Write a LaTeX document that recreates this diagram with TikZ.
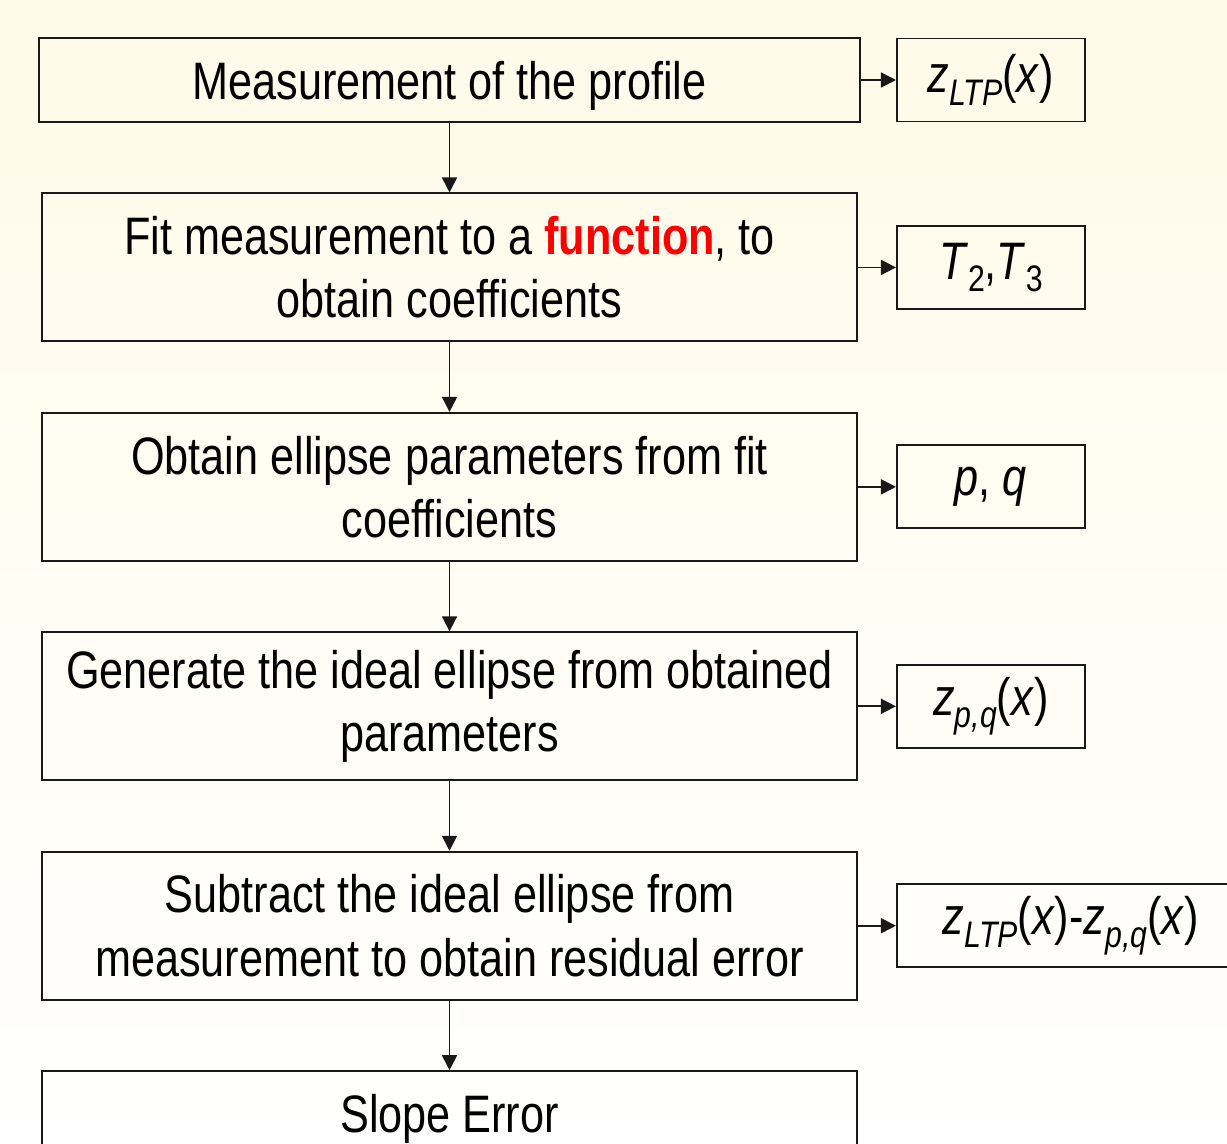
\documentclass[tikz,border=0pt]{standalone}
\usepackage{fontspec}
\setmainfont[FakeStretch=0.82]{Liberation Sans}
\usetikzlibrary{positioning,arrows.meta}
\definecolor{fcCream}{RGB}{255,250,232}
\definecolor{fcLine}{RGB}{25,25,25}
\definecolor{fcRed}{RGB}{255,0,0}
\newcommand{\lowsub}[1]{\raisebox{-0.45ex}{\fontsize{21}{21}\selectfont #1}}

\begin{document}
\begin{tikzpicture}[
    node distance=1.39cm,
    stagebox/.style={rectangle, draw=fcLine, line width=1.1pt, minimum width=16.3cm, minimum height=2.96cm, align=center, inner sep=0pt, font=\fontsize{30}{36}\selectfont},
    shortbox/.style={stagebox, minimum height=1.68cm, text depth=0pt},
    outbox/.style={rectangle, draw=fcLine, line width=1.1pt, minimum width=3.76cm, minimum height=1.66cm, inner sep=0pt, font=\fontsize{30}{36}\selectfont},
    flow/.style={draw=fcLine, line width=1pt, -{Triangle[length=0.3cm,width=0.3cm]}}
]
  \clip (0,0) rectangle (24.54,-22.86);
  \fill[top color=fcCream, bottom color=white] (0,0) rectangle (24.54,-22.86);

  % main column
  \node[shortbox, minimum width=16.42cm] (meas) at (8.99,-1.6) {Measurement of the profile};
  \node[stagebox] (fit) [below=of meas] {Fit measurement to a \textcolor{fcRed}{\textbf{function}}, to\\obtain coefficients};
  \node[stagebox] (param) [below=of fit] {Obtain ellipse parameters from fit\\coefficients};
  \node[stagebox] (ideal) [below=of param] {Generate the ideal ellipse from obtained\\parameters};
  \node[stagebox] (resid) [below=of ideal] {Subtract the ideal ellipse from\\measurement to obtain residual error};
  \node[shortbox] (slope) [below=of resid] {Slope Error};

  % results
  \node[outbox] (zltp) [right=0.7cm of meas] {\textit{z}\lowsub{\textit{LTP}}(\textit{x})};
  \node[outbox] (tcoef) [right=0.76cm of fit] {\textit{T}\lowsub{2},\textit{T}\lowsub{3}};
  \node[outbox] (pq) [right=0.76cm of param] {\textit{p}, \textit{q}};
  \node[outbox] (zpq) [right=0.76cm of ideal] {\textit{z}\lowsub{\textit{p,q}}(\textit{x})};
  \node[outbox, minimum width=6.96cm] (diff) [right=0.76cm of resid] {\textit{z}\lowsub{\textit{LTP}}(\textit{x})-\textit{z}\lowsub{\textit{p,q}}(\textit{x})};

  \draw[flow] (meas) -- (fit);
  \draw[flow] (fit) -- (param);
  \draw[flow] (param) -- (ideal);
  \draw[flow] (ideal) -- (resid);
  \draw[flow] (resid) -- (slope);

  \draw[flow] (meas) -- (zltp);
  \draw[flow] (fit) -- (tcoef);
  \draw[flow] (param) -- (pq);
  \draw[flow] (ideal) -- (zpq);
  \draw[flow] (resid) -- (diff);
\end{tikzpicture}
\end{document}
